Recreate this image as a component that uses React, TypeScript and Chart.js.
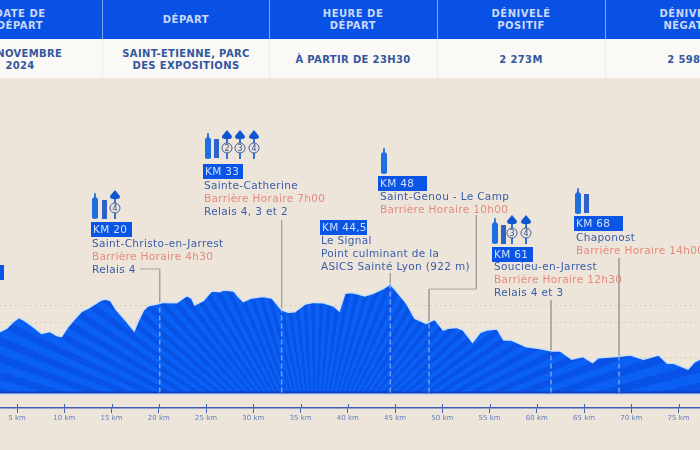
import React, { useEffect, useRef } from "react";
import { Chart, registerables } from "chart.js";

Chart.register(...registerables);

const kmValues = [3, 3.2, 3.9, 4.6, 5.2, 5.8, 6.7, 7.6, 8.5, 9.2, 9.7, 10.4, 11.0, 11.8, 12.7, 13.8, 14.3, 14.9, 15.5, 16.6, 17.4, 17.8, 18.4, 18.9, 19.8, 20.5, 21.9, 22.4, 23.0, 23.5, 23.8, 24.7, 25.6, 26.5, 26.8, 27.9, 28.1, 28.4, 28.95, 29.7, 30.4, 31.1, 32.0, 33.0, 33.7, 34.4, 35.5, 36.4, 37.4, 38.5, 39.1, 39.7, 40.4, 41.1, 41.8, 42.7, 43.8, 44.5, 45.2, 46.2, 47.1, 48.3, 49.2, 50.1, 50.6, 51.5, 52.2, 53.2, 54.0, 54.7, 55.8, 56.5, 57.3, 58.9, 60.3, 61.6, 62.5, 63.7, 64.9, 65.9, 66.5, 68.5, 69.9, 71.3, 72.9, 73.8, 74.5, 76.0, 76.7, 77.3];
const elevationValues = [640, 648, 667, 705, 728, 711, 676, 638, 648, 625, 619, 676, 714, 762, 787, 825, 834, 825, 772, 705, 653, 705, 772, 796, 806, 815, 813, 832, 853, 838, 800, 825, 880, 876, 886, 880, 871, 848, 819, 838, 844, 848, 838, 772, 758, 762, 806, 815, 813, 794, 766, 867, 871, 863, 852, 867, 895, 920, 876, 810, 724, 695, 718, 657, 667, 672, 657, 587, 642, 657, 663, 600, 600, 562, 552, 537, 537, 491, 505, 471, 499, 505, 514, 490, 514, 467, 467, 434, 476, 491];
const tickKm = [5, 10, 15, 20, 25, 30, 35, 40, 45, 50, 55, 60, 65, 70, 75];
const gridLevels = [500, 700, 800];
const stopKm = [20.1, 33, 44.5, 48.6, 61.5, 68.7];
const stopElevation = [806, 772, 920, 695, 537, 507];
const leaderKm = [[18.0, 20.1, 20.1], [33, 33], [44.5, 44.5], [53.6, 53.6, 48.6, 48.6], [61.5, 61.5], [68.7, 68.7]];
const leaderElevation = [[1006, 1006, 806], [1286, 772], [983, 920], [1314, 891, 891, 695], [829, 537], [1069, 507]];

const BLUE = "#0b55e6";
const TEXT = "#3a5caa";
const RED = "#e58a7e";
const BG = "#ede5d9";
const FONT = "'DejaVu Sans', sans-serif";

const headers = [["DATE DE", "DÉPART"], ["DÉPART"], ["HEURE DE", "DÉPART"], ["DÉNIVELÉ", "POSITIF"], ["DÉNIVELÉ", "NÉGATIF"]];
const cells = [["30 NOVEMBRE", "2024"], ["SAINT-ETIENNE, PARC", "DES EXPOSITIONS"], ["À PARTIR DE 23H30"], ["2 273M"], ["2 598M"]];
const colCentres = [20, 186, 353, 521, 689];
const colLines = [102, 269, 437, 605];

type Line = { t: string; c: string };
const notes: { km: string; x: number; y: number; w: number; top: number; lx: number; lines: Line[] }[] = [
  { km: "KM 20", x: 91, y: 222, w: 41, top: 236.5, lx: 92, lines: [{ t: "Saint-Christo-en-Jarrest", c: TEXT }, { t: "Barrière Horaire 4h30", c: RED }, { t: "Relais 4", c: TEXT }] },
  { km: "KM 33", x: 203, y: 164, w: 40, top: 178.5, lx: 204, lines: [{ t: "Sainte-Catherine", c: TEXT }, { t: "Barrière Horaire 7h00", c: RED }, { t: "Relais 4, 3 et 2", c: TEXT }] },
  { km: "KM 44,5", x: 320, y: 220, w: 47, top: 233.5, lx: 321, lines: [{ t: "Le Signal", c: TEXT }, { t: "Point culminant de la", c: TEXT }, { t: "ASICS Sainté Lyon (922 m)", c: TEXT }] },
  { km: "KM 48", x: 378, y: 176, w: 49, top: 190, lx: 380, lines: [{ t: "Saint-Genou - Le Camp", c: TEXT }, { t: "Barrière Horaire 10h00", c: RED }] },
  { km: "KM 61", x: 492, y: 247, w: 41, top: 260, lx: 494, lines: [{ t: "Soucieu-en-Jarrest", c: TEXT }, { t: "Barrière Horaire 12h30", c: RED }, { t: "Relais 4 et 3", c: TEXT }] },
  { km: "KM 68", x: 574, y: 216, w: 49, top: 231, lx: 576, lines: [{ t: "Chaponost", c: TEXT }, { t: "Barrière Horaire 14h00", c: RED }] },
];

const bottles = [[92, 193], [205, 133], [381, 148], [492, 218], [575, 188]];
const bars = [[102, 200], [214, 139], [501, 225], [584, 194]];
const trees: [number, number, string][] = [[115, 190, "4"], [227, 130, "2"], [240, 130, "3"], [254, 130, "4"], [512, 215, "3"], [526, 215, "4"]];

function Icons() {
  return (
    <svg width={700} height={450} style={{ position: "absolute", left: 0, top: 0 }}>
      {bottles.map(([x, y], i) => (
        <path key={i} d={`M${x} ${y + 6} L${x + 2} ${y + 4} L${x + 2.3} ${y} L${x + 3.7} ${y} L${x + 4} ${y + 4} L${x + 6} ${y + 6} V${y + 25} Q${x + 3} ${y + 27} ${x} ${y + 25} Z`} fill="#1f6fe0" />
      ))}
      {bars.map(([x, y], i) => (
        <rect key={i} x={x} y={y} width={5} height={19} fill="#2d62c8" />
      ))}
      {trees.map(([x, y, n], i) => (
        <g key={i}>
          <path d={`M${x} ${y} C${x + 2} ${y + 3} ${x + 5} ${y + 5} ${x + 5} ${y + 7} C${x + 5} ${y + 10} ${x - 5} ${y + 10} ${x - 5} ${y + 7} C${x - 5} ${y + 5} ${x - 2} ${y + 3} ${x} ${y}`} fill="#0f55d0" />
          <rect x={x - 0.8} y={y + 9} width={1.6} height={20} fill="#0f55d0" />
          <circle cx={x} cy={y + 18} r={5} fill={BG} stroke="#2c4f9c" strokeWidth={0.9} />
          <text x={x} y={y + 21} textAnchor="middle" fontSize={8} fontFamily="DejaVu Sans" fill="#2c4f9c">{n}</text>
        </g>
      ))}
    </svg>
  );
}

export default function App() {
  const ref = useRef<HTMLCanvasElement>(null);
  useEffect(() => {
    const upTicks = {
      id: "upTicks",
      afterDatasetsDraw(chart: any) {
        const s = chart.scales.x;
        const c = chart.ctx;
        c.save();
        c.strokeStyle = "#3f62b8";
        c.lineWidth = 1;
        tickKm.forEach((k) => {
          const x = Math.round(s.getPixelForValue(k)) + 0.5;
          c.beginPath();
          c.moveTo(x, s.top - 4);
          c.lineTo(x, s.top);
          c.stroke();
        });
        c.restore();
      },
    };
    const stripes = (ctx: any) => {
      const chart = ctx.chart;
      if (!chart.chartArea) return BLUE;
      const cx = chart.scales.x.getPixelForValue(36.5);
      const cy = chart.scales.y.getPixelForValue(-143);
      const g = chart.ctx.createConicGradient(0, cx, cy);
      const step = 1.4 / 360;
      for (let i = 0, a = 0; a < 1; i++, a += step) {
        const col = i % 2 ? "#0a5ff5" : "#0852e5";
        g.addColorStop(a, col);
        g.addColorStop(Math.min(1, a + step), col);
      }
      return g;
    };
    const chart = new Chart(ref.current as HTMLCanvasElement, {
      type: "line",
      data: {
        datasets: [
          ...stopKm.map((k, i) => ({
            data: [{ x: k, y: 300 }, { x: k, y: stopElevation[i] }],
            borderColor: "#6ea2f2",
            borderWidth: 1.5,
            borderDash: [5, 3],
            pointRadius: 0,
            fill: false,
          })),
          {
            data: [{ x: 3, y: 300 }, { x: 78, y: 300 }],
            borderColor: "#0a3fc4",
            borderWidth: 2,
            pointRadius: 0,
            fill: false,
          },
          {
            data: [{ x: 3, y: 289 }, { x: 78, y: 289 }],
            borderColor: "#d3e0f3",
            borderWidth: 1.5,
            pointRadius: 0,
            fill: false,
          },
          {
            data: kmValues.map((k, i) => ({ x: k, y: elevationValues[i] })),
            borderColor: "#cfe0f2",
            borderWidth: 1.5,
            pointRadius: 0,
            tension: 0,
            fill: { target: { value: 300 } },
            backgroundColor: stripes,
          },
          ...leaderKm.map((ks, i) => ({
            data: ks.map((k, j) => ({ x: k, y: leaderElevation[i][j] })),
            borderColor: "#a3a3a6",
            borderWidth: 1,
            pointRadius: 0,
            fill: false,
          })),
        ],
      },
      options: {
        animation: false,
        responsive: false,
        parsing: false,
        layout: { padding: 0 },
        plugins: { legend: { display: false }, tooltip: { enabled: false } },
        scales: {
          x: {
            type: "linear",
            min: 3.2,
            max: 77.27,
            afterFit(s: any) { s.height = 42; },
            afterBuildTicks(a: any) { a.ticks = tickKm.map((value) => ({ value })); },
            border: { color: "#3f62b8", width: 1.5 },
            grid: { drawOnChartArea: false, tickLength: 5, color: "#3f62b8", tickColor: "#3f62b8" },
            ticks: {
              callback: (v: any) => `${v} km`,
              color: "#6580bd",
              font: { family: "DejaVu Sans", size: 7 },
              padding: 1,
              maxRotation: 0,
              autoSkip: false,
            },
          },
          y: {
            min: 211.43,
            max: 2542.9,
            afterFit(s: any) { s.width = 0; },
            afterBuildTicks(a: any) { a.ticks = gridLevels.map((value) => ({ value })); },
            border: { display: false, dash: [1.5, 3.5] },
            grid: { color: "#d6c5a6", lineWidth: 1, drawTicks: false },
            ticks: { display: false },
          },
        },
      } as any,
      plugins: [upTicks],
    } as any);
    return () => chart.destroy();
  }, []);

  const cellText = (lines: string[], cx: number, centreY: number, color: string, size: number, spacing: number) =>
    lines.map((t, j) => (
      <div
        key={j}
        style={{
          position: "absolute",
          left: cx - 120,
          width: 240,
          textAlign: "center",
          top: centreY - (lines.length * 12.5) / 2 + j * 12.5,
          lineHeight: "12.5px",
          fontSize: size,
          letterSpacing: spacing,
          fontWeight: 700,
          color,
          whiteSpace: "pre",
        }}
      >
        {t}
      </div>
    ));

  return (
    <div style={{ position: "fixed", left: 0, top: 0, width: 700, height: 450, overflow: "hidden", background: BG, fontFamily: FONT, filter: "blur(0.45px)" }}>
      <canvas ref={ref} width={700} height={450} style={{ position: "absolute", left: 0, top: 0, display: "block" }} />
      <div style={{ position: "absolute", left: 0, top: 0, width: 700, height: 39, background: "#0950e4" }} />
      <div style={{ position: "absolute", left: 0, top: 39, width: 700, height: 39, background: "#faf9f6" }} />
      {colLines.map((x, i) => (
        <React.Fragment key={i}>
          <div style={{ position: "absolute", left: x, top: 0, width: 1, height: 39, background: "#7ea4ee" }} />
          <div style={{ position: "absolute", left: x, top: 39, width: 1, height: 39, background: "#efeee9" }} />
        </React.Fragment>
      ))}
      {headers.map((h, i) => (
        <React.Fragment key={i}>{cellText(h, colCentres[i], 20, "#c9d9f8", 10, 0.5)}</React.Fragment>
      ))}
      {cells.map((h, i) => (
        <React.Fragment key={i}>{cellText(h, colCentres[i], 60, "#34569f", 10, 0.35)}</React.Fragment>
      ))}
      <Icons />
      <div style={{ position: "absolute", left: 0, top: 265, width: 4, height: 15, background: BLUE }} />
      {notes.map((n, i) => (
        <React.Fragment key={i}>
          <div style={{ position: "absolute", left: n.x, top: n.y, width: n.w, height: 15, background: BLUE, color: "#cfe0fb", fontSize: 10.5, letterSpacing: 0.3, lineHeight: "15px", paddingLeft: 2, boxSizing: "border-box", whiteSpace: "pre" }}>{n.km}</div>
          {n.lines.map((l, j) => (
            <div key={j} style={{ position: "absolute", left: n.lx, top: n.top + j * 13.2, lineHeight: "13px", fontSize: 10.5, letterSpacing: 0.35, color: l.c, whiteSpace: "pre" }}>{l.t}</div>
          ))}
        </React.Fragment>
      ))}
    </div>
  );
}
